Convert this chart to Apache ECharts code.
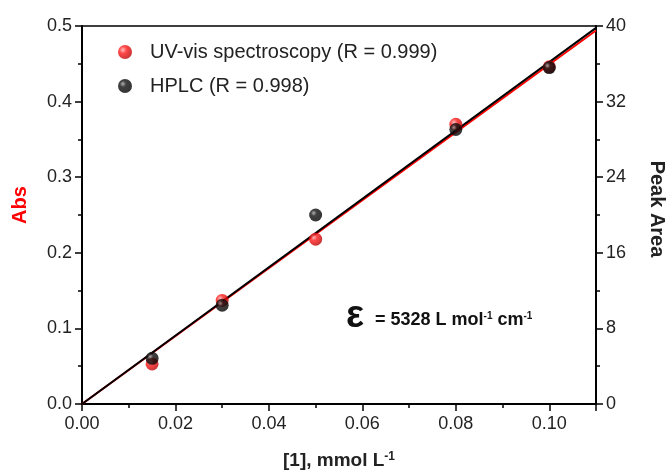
<!DOCTYPE html>
<html><head><meta charset="utf-8">
<script src="https://cdn.jsdelivr.net/npm/echarts@6/dist/echarts.min.js"></script>
<style>html,body{margin:0;padding:0;background:#fff}#c{width:669px;height:472px}</style>
</head><body><div id="c"></div>
<script>
// Data
const concentration = [0.015, 0.03, 0.05, 0.08, 0.10];
const uvAbs = [0.053, 0.137, 0.218, 0.370, 0.446];
const hplcArea = [4.83, 10.45, 20.0, 29.05, 35.6];
const fitX = [0, 0.11];
const fitUV = [0, 0.494];
const fitHPLC = [0, 39.8];
const xTicks = ['0.00','0.02','0.04','0.06','0.08','0.10'];
const seriesNames = ['UV-vis spectroscopy (R = 0.999)', 'HPLC (R = 0.998)'];

const FONT = 'Liberation Sans, Arial, sans-serif';
const redBall = {type:'radial', x:0.35, y:0.35, r:0.75, colorStops:[{offset:0,color:'#ffb0b0'},{offset:0.35,color:'#ff1a1a'},{offset:1,color:'#b00000'}]};
const blackBall = {type:'radial', x:0.35, y:0.35, r:0.75, colorStops:[{offset:0,color:'#a0a0a0'},{offset:0.3,color:'#111'},{offset:1,color:'#000'}]};

const chart = echarts.init(document.getElementById('c'));
const axisLabel = {color:'#222', fontSize:18, fontFamily:FONT};
chart.setOption({
  animation:false,
  grid:{left:82, right:73, top:26, bottom:68, containLabel:false, outerBoundsMode:'none', show:true, borderColor:'#000', borderWidth:1.5, backgroundColor:'transparent'},
  legend:{
    data: seriesNames, orient:'vertical', left:113, top:37, itemGap:14, itemWidth:14, itemHeight:14,
    icon:'circle', textStyle:{fontSize:20, fontFamily:FONT, color:'#222', padding:[0,0,0,13]}
  },
  xAxis:{
    type:'value', min:0, max:0.11, interval:0.02,
    name:'{a|[1], mmol L}{s|-1}', nameLocation:'middle', nameGap:47,
    nameTextStyle:{rich:{a:{fontSize:19, fontWeight:'bold', fontFamily:FONT, color:'#222'}, s:{fontSize:12, fontWeight:'bold', fontFamily:FONT, color:'#222', verticalAlign:'top', padding:[0,0,8,0]}}},
    axisLine:{show:true, onZero:false, lineStyle:{color:'#000', width:2}},
    axisTick:{show:true, length:7, lineStyle:{color:'#000', width:1.5}},
    minorTick:{show:true, splitNumber:2, length:4, lineStyle:{color:'#000', width:1.5}},
    splitLine:{show:false},
    axisLabel:Object.assign({margin:11, formatter:(v)=>{const i=Math.round(v/0.02); return (Math.abs(v-i*0.02)<1e-9 && i<xTicks.length)?xTicks[i]:'';}}, axisLabel)
  },
  yAxis:[{
    type:'value', min:0, max:0.5, interval:0.1, position:'left',
    name:'Abs', nameLocation:'middle', nameGap:52, nameRotate:90,
    nameTextStyle:{fontSize:20, fontWeight:'bold', color:'#ff0000', fontFamily:FONT, padding:[0,0,0,20]},
    axisLine:{show:true, lineStyle:{color:'#000', width:2}},
    axisTick:{show:true, length:7, lineStyle:{color:'#000', width:1.5}},
    minorTick:{show:true, splitNumber:2, length:4, lineStyle:{color:'#000', width:1.5}},
    splitLine:{show:false},
    axisLabel:Object.assign({margin:10, formatter:(v)=>v.toFixed(1)}, axisLabel)
  },{
    type:'value', min:0, max:40, interval:8, position:'right',
    name:'Peak Area', nameLocation:'middle', nameGap:51, nameRotate:-90,
    nameTextStyle:{fontSize:20, fontWeight:'bold', color:'#222', fontFamily:FONT, padding:[0,12,0,0]},
    axisLine:{show:true, lineStyle:{color:'#000', width:2}},
    axisTick:{show:true, length:7, lineStyle:{color:'#000', width:1.5}},
    minorTick:{show:true, splitNumber:2, length:4, lineStyle:{color:'#000', width:1.5}},
    splitLine:{show:false},
    axisLabel:Object.assign({margin:10}, axisLabel)
  }],
  series:[
    {name:'fitUV', type:'line', yAxisIndex:0, data:fitX.map((x,i)=>[x,fitUV[i]]), symbol:'none', lineStyle:{color:'#ff0000', width:2}, z:2},
    {name:'fitHPLC', type:'line', yAxisIndex:1, data:fitX.map((x,i)=>[x,fitHPLC[i]]), symbol:'none', lineStyle:{color:'#000', width:2}, z:3},
    {name:seriesNames[0], type:'scatter', yAxisIndex:0, data:concentration.map((x,i)=>[x,uvAbs[i]]), symbolSize:13, itemStyle:{color:redBall}, z:4},
    {name:seriesNames[1], type:'scatter', yAxisIndex:1, data:concentration.map((x,i)=>[x,hplcArea[i]]), symbolSize:13, itemStyle:{color:blackBall}, z:5}
  ],
  graphic:[{
    type:'text', left:346, top:298,
    style:{ text:'ε', fontSize:38, fontWeight:'bold', fontFamily:FONT, fill:'#111' }
  },{
    type:'text', left:375, top:311,
    style:{
      text:'{t|= 5328 L mol}{s|-1}{t| cm}{s|-1}',
      rich:{
        t:{fontSize:18, fontWeight:'bold', fontFamily:FONT, fill:'#111'},
        s:{fontSize:10, fontWeight:'bold', fontFamily:FONT, fill:'#111', verticalAlign:'top'}
      }
    }
  }]
});
</script></body></html>
